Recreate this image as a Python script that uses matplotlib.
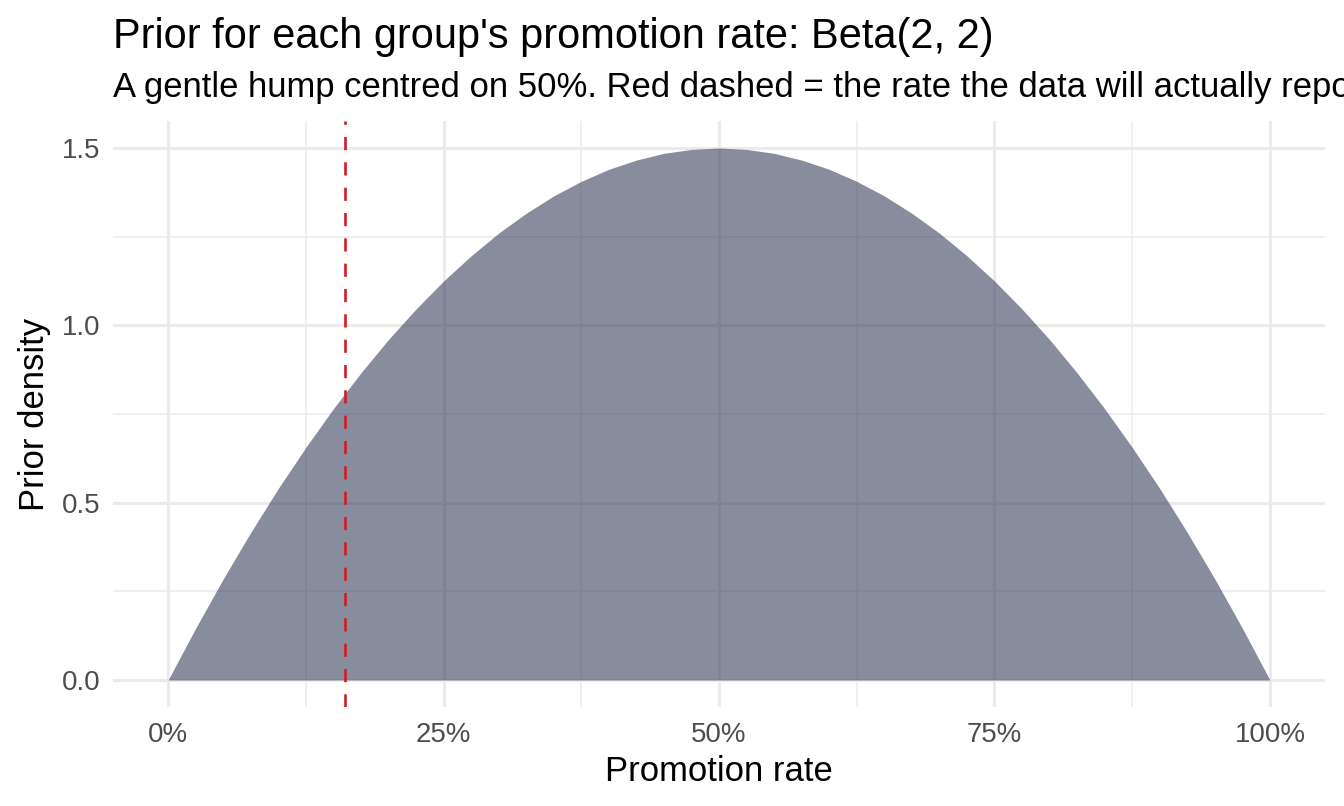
import numpy as np
import matplotlib
matplotlib.use("Agg")
from matplotlib import pyplot as plt
from matplotlib.ticker import FixedLocator

plt.rcParams['font.family'] = ['Liberation Sans', 'DejaVu Sans']

# values
rate = [0.000, 0.025, 0.050, 0.075, 0.100, 0.125, 0.150, 0.175, 0.200, 0.225,
        0.250, 0.275, 0.300, 0.325, 0.350, 0.375, 0.400, 0.425, 0.450, 0.475,
        0.500, 0.525, 0.550, 0.575, 0.600, 0.625, 0.650, 0.675, 0.700, 0.725,
        0.750, 0.775, 0.800, 0.825, 0.850, 0.875, 0.900, 0.925, 0.950, 0.975, 1.000]
density = [0.000, 0.146, 0.285, 0.416, 0.540, 0.656, 0.765, 0.866, 0.960, 1.046,
           1.125, 1.196, 1.260, 1.316, 1.365, 1.406, 1.440, 1.466, 1.485, 1.496,
           1.500, 1.496, 1.485, 1.466, 1.440, 1.406, 1.365, 1.316, 1.260, 1.196,
           1.125, 1.046, 0.960, 0.866, 0.765, 0.656, 0.540, 0.416, 0.285, 0.146, 0.000]
observed_rate = 0.161

x_ticks = [0, 0.25, 0.5, 0.75, 1.0]
x_labels = ["0%", "25%", "50%", "75%", "100%"]
y_ticks = [0.0, 0.5, 1.0, 1.5]
y_labels = ["0.0", "0.5", "1.0", "1.5"]

W, H = 1344, 806
fig = plt.figure(figsize=(W / 100, H / 100), dpi=100)
ax = fig.add_axes([113 / W, 1 - 706.6 / H, (1325 - 113) / W, (706.6 - 121.4) / H])

grid_col = "#EBEBEB"
ax.set_xlim(-0.05, 1.05)
ax.set_ylim(-0.075, 1.575)
ax.xaxis.set_major_locator(FixedLocator(x_ticks))
ax.yaxis.set_major_locator(FixedLocator(y_ticks))
ax.xaxis.set_minor_locator(FixedLocator([0.125, 0.375, 0.625, 0.875]))
ax.yaxis.set_minor_locator(FixedLocator([0.25, 0.75, 1.25]))
ax.set_xticklabels(x_labels)
ax.set_yticklabels(y_labels)
ax.grid(which="major", color=grid_col, linewidth=2.2)
ax.grid(which="minor", color=grid_col, linewidth=1.1)
ax.set_axisbelow(True)
for s in ax.spines.values():
    s.set_visible(False)
ax.tick_params(which="both", length=0)
ax.tick_params(axis="both", labelsize=19.9, labelcolor="#4D4D4D")
ax.tick_params(axis="x", pad=11)
ax.tick_params(axis="y", pad=9)

ax.fill_between(rate, 0, density, color="#27304F", alpha=0.55, linewidth=0, zorder=2)
ax.axvline(observed_rate, color="#D01C26", linewidth=1.9, dashes=(5.0, 4.6), zorder=3)

ax.set_xlabel("Promotion rate", fontsize=24.9, labelpad=5)
ax.set_ylabel("Prior density", fontsize=24.9, labelpad=8)

fig.text(113 / W, 1 - 48 / H, "Prior for each group's promotion rate: Beta(2, 2)",
         fontsize=29.9, ha="left", va="baseline")
fig.text(113 / W, 1 - 97 / H,
         "A gentle hump centred on 50%. Red dashed = the rate the data will actually report.",
         fontsize=24.9, ha="left", va="baseline")

fig.savefig("out.png", dpi=100)
